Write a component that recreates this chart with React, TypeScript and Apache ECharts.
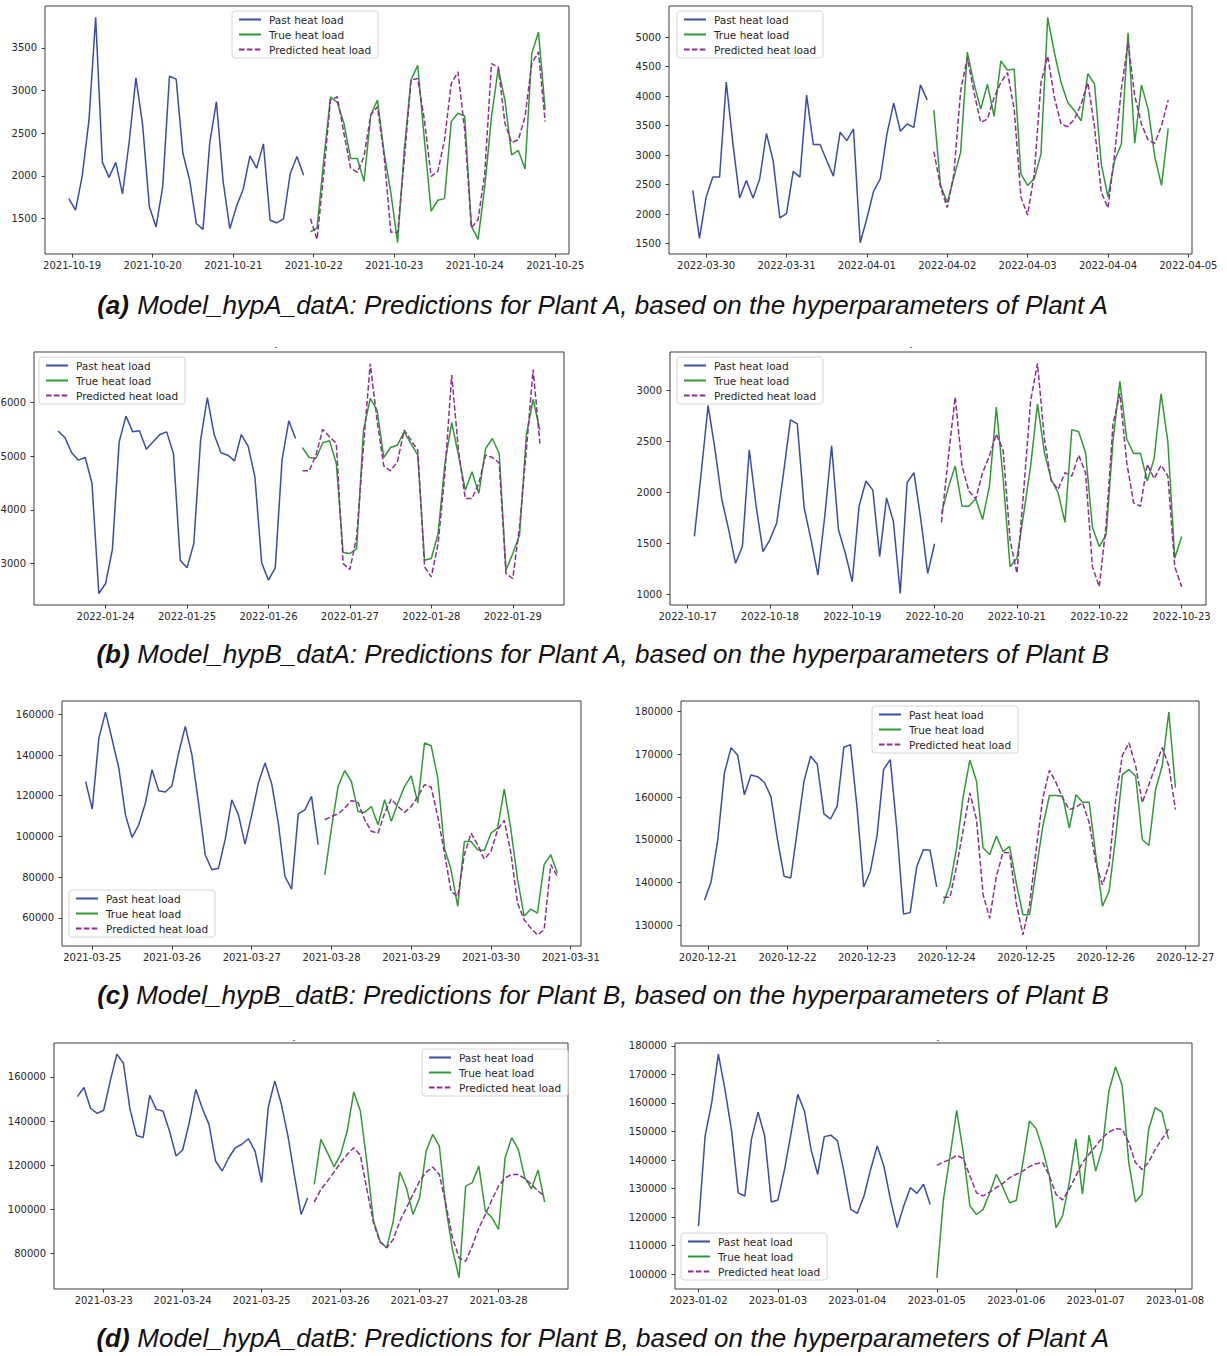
import React, { useEffect, useRef } from 'react';
import * as echarts from 'echarts';

const H2 = 2 * 3600 * 1000;
const NAMES = ['Past heat load', 'True heat load', 'Predicted heat load'];

// (a) left
const aL_start = '2021-10-18 23:00';
const aL_past = [1733,1597,2000,2650,3860,2161,1982,2158,1788,2400,3150,2600,1640,1400,1877,3169,3134,2266,1955,1442,1372,2383,2870,1936,1380,1644,1846,2235,2091,2375,1480,1450,1496,2025,2228,2006];
const aL_true = [1344,1391,2189,2928,2862,2617,2204,2204,1936,2714,2889,2266,1800,1216,2305,3123,3298,2422,1586,1714,1733,2636,2734,2702,1410,1255,1877,2695,3259,2889,2247,2298,2080,3434,3687,2772];
const aL_pred = [1500,1255,2033,2889,2928,2500,2091,2041,2228,2714,2811,2228,1340,1333,2189,3123,3142,2656,1994,2053,2422,3084,3220,2539,1391,1488,2033,3317,3278,2617,2391,2422,2695,3317,3454,2636];
const aL_days = ['2021-10-19','2021-10-20','2021-10-21','2021-10-22','2021-10-23','2021-10-24','2021-10-25'];
const aL_yticks = [1500, 2000, 2500, 3000, 3500];

// (a) right
const aR_start = '2022-03-29 20:00';
const aR_past = [2405,1590,2292,2629,2629,4241,3191,2275,2573,2275,2601,3371,2910,1938,2011,2725,2629,4017,3180,3180,2910,2646,3388,3247,3444,1517,1927,2388,2601,3360,3882,3405,3528,3472,4191,3938];
const aR_true = [3764,2489,2197,2629,3051,4747,4213,3781,4202,3657,4596,4444,4455,2685,2489,2601,3022,5337,4736,4230,3893,3753,3584,4382,4202,2854,2292,2910,3191,5073,3202,4191,3781,2966,2489,3455];
const aR_pred = [3062,2461,2112,2685,4090,4652,4062,3556,3612,3978,4230,4399,3781,2292,1983,2685,4230,4680,3978,3528,3483,3612,3865,4230,3472,2376,2107,3022,4118,4905,4006,3528,3258,3202,3500,3933];
const aR_days = ['2022-03-30','2022-03-31','2022-04-01','2022-04-02','2022-04-03','2022-04-04','2022-04-05'];
const aR_yticks = [1500, 2000, 2500, 3000, 3500, 4000, 4500, 5000];

// (b) left
const bL_start = '2022-01-23 10:00';
const bL_past = [5463,5345,5060,4923,4973,4489,2442,2628,3261,5264,5742,5450,5469,5128,5264,5400,5450,5047,3062,2919,3372,5295,6089,5400,5060,5016,4911,5400,5184,4613,3012,2690,2919,4923,5655,5326];
const bL_true = [5159,4973,4954,5246,5283,4861,3205,3186,3279,5481,6071,5854,4973,5159,5202,5450,5233,5016,3062,3093,3558,4861,5624,5016,4365,4706,4303,5140,5326,5047,2876,3186,3527,5388,6052,5481];
const bL_pred = [4725,4725,5016,5494,5357,5233,3000,2888,3496,5171,6722,5667,4811,4725,4892,5481,5295,5109,2938,2752,3372,4675,6505,5109,4210,4210,4489,5016,4973,4873,2814,2721,3682,5109,6610,5233];
const bL_days = ['2022-01-24','2022-01-25','2022-01-26','2022-01-27','2022-01-28','2022-01-29'];
const bL_yticks = [3000, 4000, 5000, 6000];

// (b) right
const bR_start = '2022-10-17 02:00';
const bR_past = [1569,2194,2852,2424,1931,1635,1306,1470,2418,1865,1421,1536,1701,2194,2711,2671,1849,1536,1191,1766,2457,1635,1405,1125,1865,2112,2023,1372,1947,1717,1010,2095,2194,1734,1207,1497];
const bR_true = [1793,2046,2260,1865,1865,1938,1734,2063,2836,2128,1273,1355,1799,2260,2868,2391,2128,1997,1707,2615,2595,2391,1658,1470,1586,2507,3089,2523,2382,2385,2112,2332,2967,2490,1355,1569];
const bR_pred = [1707,2342,2934,2260,2013,1938,2194,2359,2572,2408,1536,1207,2030,2901,3263,2523,2112,2030,2194,2161,2365,2194,1273,1076,1684,2671,2967,2293,1898,1865,2276,2135,2266,2161,1273,1076];
const bR_days = ['2022-10-17','2022-10-18','2022-10-19','2022-10-20','2022-10-21','2022-10-22','2022-10-23'];
const bR_yticks = [1000, 1500, 2000, 2500, 3000];

// (c) left
const cL_start = '2021-03-24 22:00';
const cL_past = [127000,113400,148300,161100,147500,133600,110600,99500,105700,116400,132800,122400,121800,124900,141000,154100,140100,116400,91000,83600,84400,98400,118000,110600,96200,110600,126200,136100,125900,106500,80300,74100,111100,113100,119700,95900];
const cL_true = [81100,104100,124600,132400,127000,112300,111800,114700,105700,118000,107400,116400,124600,129800,116400,145900,144600,128700,94300,83600,65600,97500,97500,93400,93100,101600,104100,123300,103300,79000,60700,64300,62300,86100,91000,82000];
const cL_pred = [108200,109800,111100,113900,117700,116700,108200,102500,101600,111500,118400,114700,111800,114700,119700,125400,124200,109800,91800,72900,70500,91000,101600,95900,88800,92600,103300,107900,91800,67200,59000,54900,51600,54100,86100,80300];
const cL_days = ['2021-03-25','2021-03-26','2021-03-27','2021-03-28','2021-03-29','2021-03-30','2021-03-31'];
const cL_yticks = [60000, 80000, 100000, 120000, 140000, 160000];

// (c) right
const cR_start = '2020-12-20 23:00';
const cR_past = [135900,140300,150100,165700,171600,169800,160600,165200,164800,163500,160200,150100,141500,141100,152400,163800,169600,167700,156100,154900,157900,171700,172300,157500,139000,142700,150900,166500,168800,152400,132700,133000,143800,147700,147600,139000];
const cR_true = [135100,139500,148100,160200,168700,163800,148100,146600,150900,147300,148500,139900,132500,132500,143000,153200,160400,160400,160200,152800,160600,158800,158800,146200,134500,138000,150900,165300,166500,164900,150100,148700,161800,167300,179900,162200];
const cR_pred = [136600,136600,143800,152400,161000,154800,137200,131700,141500,147100,147000,135200,127800,134800,147700,159800,166300,163400,159800,157100,157700,158700,154000,144600,139500,144200,159500,169800,172700,167300,158700,163000,167300,171600,167300,157100];
const cR_days = ['2020-12-21','2020-12-22','2020-12-23','2020-12-24','2020-12-25','2020-12-26','2020-12-27'];
const cR_yticks = [130000, 140000, 150000, 160000, 170000, 180000];

// (d) left
const dL_start = '2021-03-22 16:00';
const dL_past = [151100,155200,145800,143500,144900,158200,170300,166200,145300,133500,132500,151700,145300,144600,135500,124200,126900,139300,154400,145600,138500,121900,117400,123400,127900,129500,132000,126400,112100,146100,158200,147600,133200,115100,97700,105300];
const dL_true = [111300,131700,125700,119300,124900,135500,153200,144600,121100,94700,85600,82600,94700,116900,109800,97700,105300,126400,134000,128700,100700,81800,69000,110500,112100,119600,99200,96200,90900,123400,132500,127200,114300,109300,117800,103300];
const dL_pred = [103300,109000,112800,116900,121100,124900,127900,124500,109000,93900,85100,82600,86400,94700,100700,106800,112800,116900,119200,115800,102200,87100,78000,76500,83300,91600,97700,104500,110500,114300,115800,115800,113900,111300,108300,106000];
const dL_days = ['2021-03-23','2021-03-24','2021-03-25','2021-03-26','2021-03-27','2021-03-28'];
const dL_yticks = [80000, 100000, 120000, 140000, 160000];

// (d) right
const dR_start = '2023-01-02 00:00';
const dR_past = [116800,148400,160100,177100,164800,150200,128500,127400,147300,156800,148400,125300,126000,136700,149600,163000,157200,143700,135000,148200,148700,146700,135600,122700,121300,127400,136700,144900,137900,126200,116300,123900,130300,128300,131500,124400];
const dR_true = [98700,126200,141400,157400,142600,123900,120900,122700,128500,135000,130300,125000,125800,139100,153700,151000,143700,134600,116300,120400,132000,147300,128000,148700,136100,144000,164200,172700,166200,139100,125300,128000,150800,158400,156800,147300];
const dR_pred = [138100,139300,140200,141600,140500,134400,128500,127400,128800,130300,131800,133800,135000,136100,137700,138700,139100,134400,128000,126000,129700,134400,139100,142000,144900,147800,149800,151000,150800,146100,139100,136700,139300,143700,147300,150800];
const dR_days = ['2023-01-02','2023-01-03','2023-01-04','2023-01-05','2023-01-06','2023-01-07','2023-01-08'];
const dR_yticks = [100000, 110000, 120000, 130000, 140000, 150000, 160000, 170000, 180000];

const captions = [
  { tag: '(a)', text: 'Model_hypA_datA: Predictions for Plant A, based on the hyperparameters of Plant A' },
  { tag: '(b)', text: 'Model_hypB_datA: Predictions for Plant A, based on the hyperparameters of Plant B' },
  { tag: '(c)', text: 'Model_hypB_datB: Predictions for Plant B, based on the hyperparameters of Plant B' },
  { tag: '(d)', text: 'Model_hypA_datB: Predictions for Plant B, based on the hyperparameters of Plant A' },
];

// layout (pixels)
const panels = [
  { start: aL_start, past: aL_past, tru: aL_true, pred: aL_pred, days: aL_days, yt: aL_yticks, g: [45, 6, 524, 248], lg: [232, 11] },
  { start: aR_start, past: aR_past, tru: aR_true, pred: aR_pred, days: aR_days, yt: aR_yticks, g: [669, 6, 523, 248], lg: [677, 11] },
  { start: bL_start, past: bL_past, tru: bL_true, pred: bL_pred, days: bL_days, yt: bL_yticks, g: [34, 352, 530, 253], lg: [39, 357] },
  { start: bR_start, past: bR_past, tru: bR_true, pred: bR_pred, days: bR_days, yt: bR_yticks, g: [670, 352, 536, 253], lg: [677, 357] },
  { start: cL_start, past: cL_past, tru: cL_true, pred: cL_pred, days: cL_days, yt: cL_yticks, g: [62, 701, 519, 245], lg: [69, 890] },
  { start: cR_start, past: cR_past, tru: cR_true, pred: cR_pred, days: cR_days, yt: cR_yticks, g: [681, 701, 518, 245], lg: [872, 706] },
  { start: dL_start, past: dL_past, tru: dL_true, pred: dL_pred, days: dL_days, yt: dL_yticks, g: [54, 1043, 514, 246], lg: [422, 1049] },
  { start: dR_start, past: dR_past, tru: dR_true, pred: dR_pred, days: dR_days, yt: dR_yticks, g: [675, 1043, 517, 246], lg: [681, 1233] },
];
const captionY = [305, 654, 995, 1338];
const dots = [[275, 347], [910, 347], [293, 1040], [937, 1040]];

const COLORS = ['#3a4ca6', '#2f9a33', '#8e2d92'];
const FRAME = '#3c3c3c';
const TXT = '#262626';
const TICKFONT = 'DejaVu Sans, Verdana, sans-serif';
const CAPFONT = 'Liberation Sans, Arial, sans-serif';

function parseT(s: string): number {
  const [d, t] = s.split(' ');
  const [y, m, dd] = d.split('-').map(Number);
  const [hh, mm] = (t || '00:00').split(':').map(Number);
  return Date.UTC(y, m - 1, dd, hh, mm);
}

function buildOption() {
  const grid: any[] = [];
  const xAxis: any[] = [];
  const yAxis: any[] = [];
  const series: any[] = [];
  const legend: any[] = [];
  panels.forEach((p, k) => {
    const t0 = parseT(p.start);
    const n = p.past.length + p.tru.length;
    const t1 = t0 + (n - 1) * H2;
    const xm = (t1 - t0) * 0.05;
    const all = p.past.concat(p.tru, p.pred);
    const vmin = Math.min(...all);
    const vmax = Math.max(...all);
    const ym = (vmax - vmin) * 0.05;
    const dayT = p.days.map((d) => parseT(d));
    const dayMap: Record<string, string> = {};
    dayT.forEach((t, i) => (dayMap[String(t)] = p.days[i]));
    grid.push({
      left: p.g[0], top: p.g[1], width: p.g[2], height: p.g[3],
      show: true, borderColor: FRAME, borderWidth: 1, backgroundColor: 'transparent',
      containLabel: false, outerBoundsMode: 'none',
    });
    xAxis.push({
      gridIndex: k, type: 'value', min: t0 - xm, max: t1 + xm,
      axisLine: { show: false },
      axisTick: { show: true, length: 3.5, lineStyle: { color: FRAME, width: 1 }, customValues: dayT },
      axisLabel: {
        show: true, customValues: dayT, margin: 6, fontSize: 10, color: TXT, fontFamily: TICKFONT,
        formatter: (v: number) => dayMap[String(v)] || '',
      },
      splitLine: { show: false },
    });
    yAxis.push({
      gridIndex: k, type: 'value', min: vmin - ym, max: vmax + ym,
      axisLine: { show: false },
      axisTick: { show: true, length: 3.5, lineStyle: { color: FRAME, width: 1 }, customValues: p.yt },
      axisLabel: {
        show: true, customValues: p.yt, margin: 8, fontSize: 10, color: TXT, fontFamily: TICKFONT,
        formatter: (v: number) => String(v),
      },
      splitLine: { show: false },
    });
    const mk = (name: string, vals: number[], off: number, ci: number, dashed: boolean) => ({
      type: 'line', name, xAxisIndex: k, yAxisIndex: k, symbol: 'none', showSymbol: false,
      data: vals.map((v, i) => [t0 + (off + i) * H2, v]),
      lineStyle: { color: COLORS[ci], width: 1.5, type: dashed ? [5.5, 2.4] : 'solid' },
      itemStyle: { color: COLORS[ci] },
      z: 3 + ci,
      silent: true,
    });
    series.push(mk(NAMES[0], p.past, 0, 0, false));
    series.push(mk(NAMES[1], p.tru, p.past.length, 1, false));
    series.push(mk(NAMES[2], p.pred, p.past.length, 2, true));
    legend.push({
      data: NAMES, left: p.lg[0], top: p.lg[1], orient: 'vertical',
      itemWidth: 22, itemHeight: 10, itemGap: 4,
      padding: [3, 7, 3, 6],
      borderColor: '#d6d6d6', borderWidth: 1, borderRadius: 3,
      backgroundColor: 'rgba(255,255,255,0.85)',
      selectedMode: false,
      itemStyle: { opacity: 0, color: 'transparent', borderColor: 'transparent', borderWidth: 0 },
      textStyle: { fontSize: 10.5, color: TXT, fontFamily: TICKFONT, padding: [0, 0, 0, 3] },
    });
  });

  const graphic: any[] = [];
  captions.forEach((c, i) => {
    graphic.push({
      type: 'text', x: 603, y: captionY[i], silent: true,
      style: {
        text: '{b|' + c.tag + '} ' + c.text,
        fontSize: 26, fontStyle: 'italic', fontFamily: CAPFONT,
        fill: '#111', align: 'center', verticalAlign: 'middle',
        rich: { b: { fontWeight: 'bold', fontStyle: 'italic', fontSize: 26, fontFamily: CAPFONT, fill: '#111' } },
      },
    });
  });
  dots.forEach((d) => {
    graphic.push({ type: 'rect', shape: { x: d[0], y: d[1], width: 2, height: 1 }, style: { fill: '#777' }, silent: true });
  });

  return { animation: false, backgroundColor: '#fff', grid, xAxis, yAxis, series, legend, graphic };
}

export default function App() {
  const ref = useRef<HTMLDivElement>(null);
  useEffect(() => {
    if (!ref.current) return;
    const chart = echarts.init(ref.current, undefined, { renderer: 'svg' });
    chart.setOption(buildOption() as any);
    return () => chart.dispose();
  }, []);
  return <div ref={ref} style={{ position: 'absolute', left: 0, top: 0, width: 1227, height: 1356 }} />;
}
